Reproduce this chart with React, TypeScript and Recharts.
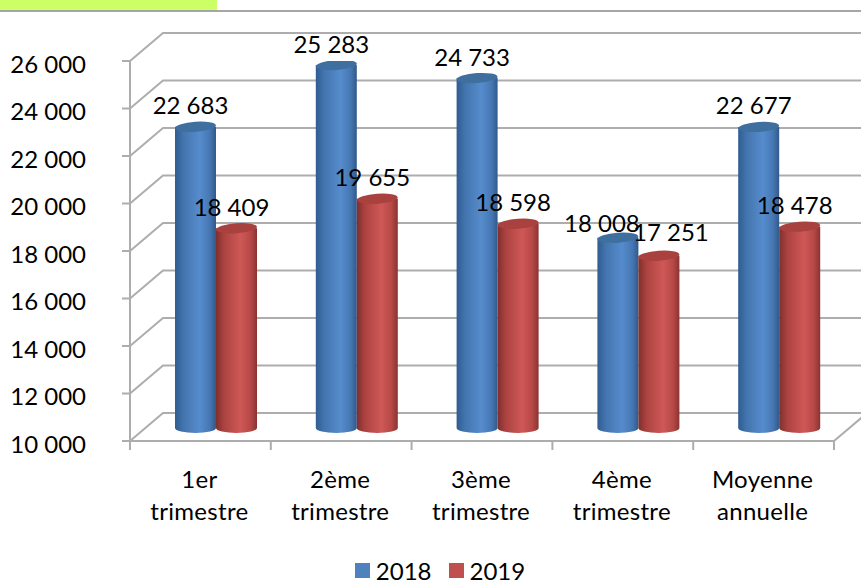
import React from 'react';
import { ComposedChart, Bar, XAxis, YAxis, CartesianGrid, Legend, LabelList } from 'recharts';

const categories = ['1er trimestre', '2ème trimestre', '3ème trimestre', '4ème trimestre', 'Moyenne annuelle'];
const values2018 = [22683, 25283, 24733, 18008, 22677];
const values2019 = [18409, 19655, 18598, 17251, 18478];
const yTicks = [10000, 12000, 14000, 16000, 18000, 20000, 22000, 24000, 26000];
const rows = categories.map((c, i) => ({ c, a: values2018[i], b: values2019[i] }));

const W = 861, H = 580;
const M = { top: 61, right: 27, bottom: 85, left: 0 };
const AXIS_W = 130, X_H = 54;
const BAND = (W - AXIS_W - M.right) / categories.length;
const DX = 33, DY = 28;
const BAR_DX = 16, BAR_DY = 13, RY = 5;
const GRAY = '#adadad';
const FONT = 'Lato, sans-serif';
const TEXT_SIZE = 24;
// Hand-placed labels in the reference's fourth group
const labelNudge: Record<number, [number, number]> = { 18008: [-11, 7], 17251: [17, -2] };

const fmt = (v: number) => String(v).replace(/(\d)(\d{3})$/, '$1 $2');

const gridLine = (p: any) => {
  const { x1, x2, y1, index } = p;
  const isFloor = Math.abs(y1 - (H - M.bottom - X_H)) < 1;
  return (
    <g key={`g-${index}`}>
      <polyline points={`${x1},${y1} ${x1 + DX},${y1 - DY} ${x2 + DX},${y1 - DY}`} fill="none" stroke={GRAY} strokeWidth={2} />
      {isFloor && <line x1={x2} y1={y1} x2={x2 + DX} y2={y1 - DY} stroke={GRAY} strokeWidth={2} />}
    </g>
  );
};

const cylinder = (grad: string, top: string) => (p: any) => {
  const x = p.x + BAR_DX, w = p.width, y = p.y - BAR_DY, h = p.height, rx = w / 2, cx = x + rx;
  return (
    <g>
      <path d={`M${x},${y} L${x},${y + h} A${rx},${RY} 0 0 0 ${x + w},${y + h} L${x + w},${y} Z`} fill={`url(#${grad})`} />
      <ellipse cx={cx} cy={y} rx={rx} ry={RY} fill={top} transform={`rotate(-4 ${cx} ${y})`} />
    </g>
  );
};

const valueLabel = (p: any) => {
  const [nx, ny] = labelNudge[p.value] || [0, 0];
  return (
    <text x={p.x + p.width / 2 + BAR_DX - 5 + nx} y={p.y - BAR_DY - 22 + ny} textAnchor="middle" dominantBaseline="central"
      fontFamily={FONT} fontSize={TEXT_SIZE} fill="#000">{fmt(p.value)}</text>
  );
};

const XTick = (p: any) => {
  const { x, y, payload, index } = p;
  const lines = String(payload.value).split(' ');
  const axisY = y - 8;
  return (
    <g>
      <line x1={x - BAND / 2} y1={axisY} x2={x - BAND / 2} y2={axisY + 9} stroke={GRAY} strokeWidth={2} />
      {index === categories.length - 1 && <line x1={x + BAND / 2} y1={axisY} x2={x + BAND / 2} y2={axisY + 9} stroke={GRAY} strokeWidth={2} />}
      {lines.map((l: string, i: number) => (
        <text key={i} x={x - 1} y={axisY + 37 + i * 32} textAnchor="middle" dominantBaseline="central" fontFamily={FONT} fontSize={TEXT_SIZE} letterSpacing={0.3} fill="#000">{l}</text>
      ))}
    </g>
  );
};

export default function App() {
  return (
    <div style={{ position: 'absolute', left: 0, top: 0, width: W, height: H, background: '#fff', overflow: 'hidden' }}>
      <div style={{ position: 'absolute', left: 0, top: 0, width: 217, height: 10, background: '#ccff66' }} />
      <div style={{ position: 'absolute', left: 0, top: 10, width: W, height: 2, background: '#a6a6a6' }} />
      <ComposedChart width={W} height={H} data={rows} margin={M} barSize={41} barGap={0} style={{ position: 'absolute', left: 0, top: 0 }}>
        <defs>
          <linearGradient id="blueCyl" x1="0" x2="1" y1="0" y2="0">
            <stop offset="0" stopColor="#2f5c92" />
            <stop offset="0.2" stopColor="#4374ad" />
            <stop offset="0.6" stopColor="#568ccd" />
            <stop offset="0.85" stopColor="#4677b3" />
            <stop offset="1" stopColor="#31598b" />
          </linearGradient>
          <linearGradient id="redCyl" x1="0" x2="1" y1="0" y2="0">
            <stop offset="0" stopColor="#7f2f2d" />
            <stop offset="0.2" stopColor="#ac4341" />
            <stop offset="0.6" stopColor="#cf5856" />
            <stop offset="0.85" stopColor="#b54846" />
            <stop offset="1" stopColor="#8a3331" />
          </linearGradient>
        </defs>
        <CartesianGrid horizontal={gridLine} vertical={false} syncWithTicks />
        <XAxis dataKey="c" height={X_H} interval={0} axisLine={{ stroke: GRAY, strokeWidth: 2 }} tickLine={false} tick={XTick} />
        <YAxis domain={[10000, 26000]} ticks={yTicks} width={AXIS_W} allowDataOverflow
          axisLine={{ stroke: GRAY, strokeWidth: 2 }} tickLine={{ stroke: GRAY, strokeWidth: 2 }} tickSize={8} tickMargin={36}
          tickFormatter={fmt} tick={{ fontFamily: FONT, fontSize: TEXT_SIZE, fill: '#000', dy: 3 }} />
        <Bar dataKey="a" name="2018" fill="#4f81bd" isAnimationActive={false} shape={cylinder('blueCyl', '#3f6f9f')}>
          <LabelList dataKey="a" content={valueLabel} />
        </Bar>
        <Bar dataKey="b" name="2019" fill="#c0504d" isAnimationActive={false} shape={cylinder('redCyl', '#a9413f')}>
          <LabelList dataKey="b" content={valueLabel} />
        </Bar>
        <Legend layout="horizontal" verticalAlign="middle" align="center" iconType="square" iconSize={15}
          wrapperStyle={{ top: 553, left: 18, width: W, fontFamily: FONT, fontSize: TEXT_SIZE }}
          formatter={(v: string) => <span style={{ color: '#000', position: 'relative', top: 3, marginLeft: 2, marginRight: 7 }}>{v}</span>} />
      </ComposedChart>
    </div>
  );
}
